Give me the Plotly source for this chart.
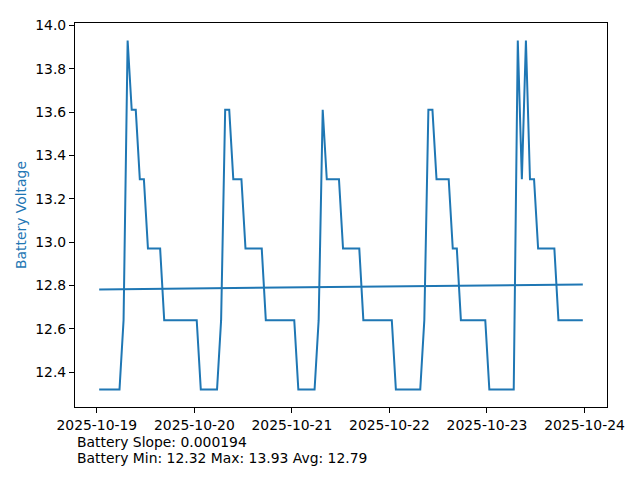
import numpy as np
import pandas as pd
import plotly.graph_objects as go

# ---- data (hourly samples) ----
start_time = "2025-10-19 00:35"
battery_voltage = [
    12.32, 12.32, 12.32, 12.32, 12.32, 12.32, 12.64, 13.93, 13.61, 13.61,
    13.29, 13.29, 12.97, 12.97, 12.97, 12.97, 12.64, 12.64, 12.64, 12.64,
    12.64, 12.64, 12.64, 12.64, 12.64, 12.32, 12.32, 12.32, 12.32, 12.32,
    12.64, 13.61, 13.61, 13.29, 13.29, 13.29, 12.97, 12.97, 12.97, 12.97,
    12.97, 12.64, 12.64, 12.64, 12.64, 12.64, 12.64, 12.64, 12.64, 12.32,
    12.32, 12.32, 12.32, 12.32, 12.64, 13.61, 13.29, 13.29, 13.29, 13.29,
    12.97, 12.97, 12.97, 12.97, 12.97, 12.64, 12.64, 12.64, 12.64, 12.64,
    12.64, 12.64, 12.64, 12.32, 12.32, 12.32, 12.32, 12.32, 12.32, 12.32,
    12.64, 13.61, 13.61, 13.29, 13.29, 13.29, 13.29, 12.97, 12.97, 12.64,
    12.64, 12.64, 12.64, 12.64, 12.64, 12.64, 12.32, 12.32, 12.32, 12.32,
    12.32, 12.32, 12.32, 13.93, 13.29, 13.93, 13.29, 13.29, 12.97, 12.97,
    12.97, 12.97, 12.97, 12.64, 12.64, 12.64, 12.64, 12.64, 12.64, 12.64,
]
slope_text = "0.000194"
x_tick_labels = ["2025-10-19", "2025-10-20", "2025-10-21", "2025-10-22", "2025-10-23", "2025-10-24"]
y_tick_values = [12.4, 12.6, 12.8, 13.0, 13.2, 13.4, 13.6, 13.8, 14.0]

# ---- derived ----
times = pd.date_range(start=start_time, periods=len(battery_voltage), freq="h")
v = np.array(battery_voltage)
hours = np.asarray((times - times[0]) / pd.Timedelta(hours=1), dtype=float)
coef = np.polyfit(hours, v, 1)
trend = np.polyval(coef, hours)

span = times[-1] - times[0]
x_range = [times[0] - span * 0.05, times[-1] + span * 0.05]
vr = v.max() - v.min()
y_range = [v.min() - vr * 0.05, v.max() + vr * 0.05]

C0 = "#1f77b4"
FONT = "DejaVu Sans"
FS = 13.9

fig = go.Figure()
fig.add_trace(go.Scatter(x=times, y=v, mode="lines",
                         line=dict(color=C0, width=2), showlegend=False))
fig.add_trace(go.Scatter(x=[times[0], times[-1]], y=[trend[0], trend[-1]], mode="lines",
                         line=dict(color=C0, width=2), showlegend=False))

axis_common = dict(showgrid=False, zeroline=False, showline=True, linecolor="black",
                   linewidth=1, mirror=True, ticks="outside", ticklen=5, tickwidth=1,
                   tickcolor="black", tickfont=dict(family=FONT, size=FS, color="black"))

fig.update_xaxes(range=x_range, tickvals=pd.to_datetime(x_tick_labels), ticktext=x_tick_labels,
                 **axis_common)
fig.update_yaxes(range=y_range, tickvals=y_tick_values,
                 ticktext=[f"{t:.1f}" for t in y_tick_values], **axis_common)

# page body has an 8px margin, so the figure is shrunk and shifted to compensate
OFF = 8
W, H = 640 - OFF, 480 - OFF
L, R, T, B = 75 - OFF, 33, 17 - OFF, 73
plot_w, plot_h = W - L - R, H - T - B
plot_bottom_px = 17 + plot_h  # in window pixels

fig.update_layout(
    width=W, height=H,
    margin=dict(l=L, r=R, t=T, b=B, pad=0),
    paper_bgcolor="white", plot_bgcolor="white",
    font=dict(family=FONT, size=FS, color="black"),
    annotations=[
        dict(text="Battery Voltage", xref="paper", yref="paper",
             x=(21 - 75) / plot_w, y=0.5, xanchor="center", yanchor="middle",
             textangle=-90, showarrow=False, font=dict(family=FONT, size=FS, color=C0)),
        dict(text=f"Battery Slope: {slope_text}", xref="paper", yref="paper",
             x=0, y=-(443 - plot_bottom_px) / plot_h, xanchor="left", yanchor="middle",
             showarrow=False, font=dict(family=FONT, size=FS, color="black")),
        dict(text=f"Battery Min: {v.min():.2f} Max: {v.max():.2f} Avg: {v.mean():.2f}",
             xref="paper", yref="paper",
             x=0, y=-(459 - plot_bottom_px) / plot_h, xanchor="left", yanchor="middle",
             showarrow=False, font=dict(family=FONT, size=FS, color="black")),
    ],
)

fig.write_html("out.html")
